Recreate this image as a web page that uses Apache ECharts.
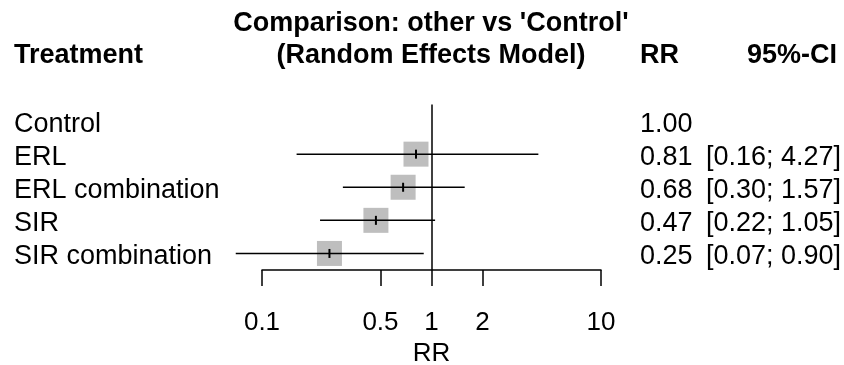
<!DOCTYPE html>
<html><head><meta charset="utf-8">
<script src="https://cdn.jsdelivr.net/npm/echarts@6/dist/echarts.min.js"></script>
<style>html,body{margin:0;padding:0;background:#fff}#c{width:844px;height:365px}</style>
</head><body><div id="c"></div>
<script>
// ---- data ----
const treatments = ['Control', 'ERL', 'ERL combination', 'SIR', 'SIR combination'];
const rr = [1.00, 0.81, 0.68, 0.47, 0.25];
const lower = [null, 0.16, 0.30, 0.22, 0.07];
const upper = [null, 4.27, 1.57, 1.05, 0.90];
const rrText = ['1.00', '0.81', '0.68', '0.47', '0.25'];
const ciText = ['', '[0.16; 4.27]', '[0.30; 1.57]', '[0.22; 1.05]', '[0.07; 0.90]'];
const xTicks = [0.1, 0.5, 1, 2, 10];
const xTickLabels = ['0.1', '0.5', '1', '2', '10'];
const refValue = 1;
const titleLines = ["Comparison: other vs 'Control'", '(Random Effects Model)'];
const headers = ['Treatment', 'RR', '95%-CI'];
const axisName = 'RR';

// ---- chart ----
const FONT = '"Liberation Sans", Arial, Helvetica, sans-serif';
const BOLD = 'bold 27px ' + FONT;
const chart = echarts.init(document.getElementById('c'), null, { renderer: 'canvas' });

const rows = [];
treatments.forEach((t, i) => { if (lower[i] != null) rows.push([rr[i], i, lower[i], upper[i]]); });

function tickLabel(v) {
  let best = 0, bd = Infinity;
  xTicks.forEach((t, i) => { const d = Math.abs(Math.log10(v) - Math.log10(t)); if (d < bd) { bd = d; best = i; } });
  return xTickLabels[best];
}

const rowRich = { r: { color: '#000', fontFamily: FONT, fontSize: 27, padding: [6, 0, 0, 0] } };
const txt = { color: '#000', fontFamily: FONT, fontSize: 27, rich: rowRich };
const wrap = s => s ? '{r|' + s + '}' : '';
const catAxisBase = {
  type: 'category', data: treatments, inverse: true,
  axisLine: { show: false }, axisTick: { show: false }, splitLine: { show: false }
};
function head(text, x, y, align) {
  return { type: 'text', style: { text: text, x: x, y: y, align: align, verticalAlign: 'middle', font: BOLD, fill: '#000' } };
}

chart.setOption({
  backgroundColor: '#fff',
  animation: false,
  grid: { left: 262, width: 339, top: 104.5, height: 165.5, containLabel: false, outerBoundsMode: 'none' },
  xAxis: {
    type: 'log', logBase: 10, min: xTicks[0], max: xTicks[xTicks.length - 1],
    axisLine: { show: true, onZero: false, lineStyle: { color: '#000', width: 1.5 } },
    axisTick: { show: true, length: 16, customValues: xTicks, lineStyle: { color: '#000', width: 1.5 } },
    axisLabel: { customValues: xTicks, formatter: tickLabel, margin: 40, color: '#000', fontFamily: FONT, fontSize: 26 },
    minorTick: { show: false }, splitLine: { show: false },
    name: axisName, nameLocation: 'middle', nameGap: 71,
    nameTextStyle: { color: '#000', fontFamily: FONT, fontSize: 26 }
  },
  yAxis: [
    Object.assign({}, catAxisBase, { axisLabel: Object.assign({ align: 'left', margin: 248, interval: 0, formatter: (v) => wrap(v) }, txt) }),
    Object.assign({}, catAxisBase, { position: 'right', offset: 0,
      axisLabel: Object.assign({ align: 'left', margin: 39, interval: 0, formatter: (v, i) => wrap(rrText[i]) }, txt) }),
    Object.assign({}, catAxisBase, { position: 'right', offset: 0,
      axisLabel: Object.assign({ align: 'right', margin: 240, interval: 0, formatter: (v, i) => wrap(ciText[i]) }, txt) })
  ],
  graphic: [
    head(titleLines[0], 431, 23.5, 'center'),
    head(titleLines[1], 431, 55.5, 'center'),
    head(headers[0], 14, 55.5, 'left'),
    head(headers[1], 640, 55.5, 'left'),
    head(headers[2], 837, 55.5, 'right')
  ],
  series: [{
    type: 'custom',
    xAxisIndex: 0, yAxisIndex: 0,
    data: rows,
    encode: { x: [0, 2, 3], y: 1 },
    clip: false,
    renderItem: function (params, api) {
      const y = api.value(1);
      const est = api.coord([api.value(0), y]);
      const lo = api.coord([api.value(2), y]);
      const hi = api.coord([api.value(3), y]);
      const s = 25;
      return {
        type: 'group', children: [
          { type: 'rect', shape: { x: est[0] - s / 2, y: est[1] - s / 2, width: s, height: s }, style: { fill: '#bebebe' } },
          { type: 'line', shape: { x1: lo[0], y1: lo[1], x2: hi[0], y2: hi[1] }, style: { stroke: '#000', lineWidth: 1.5 } },
          { type: 'line', shape: { x1: est[0], y1: est[1] - 4.5, x2: est[0], y2: est[1] + 4.5 }, style: { stroke: '#000', lineWidth: 2 } }
        ]
      };
    },
    markLine: {
      silent: true, symbol: ['none', 'none'], label: { show: false },
      lineStyle: { color: '#000', width: 1.5, type: 'solid' },
      data: [{ xAxis: refValue }]
    }
  }]
});
</script>
</body></html>
